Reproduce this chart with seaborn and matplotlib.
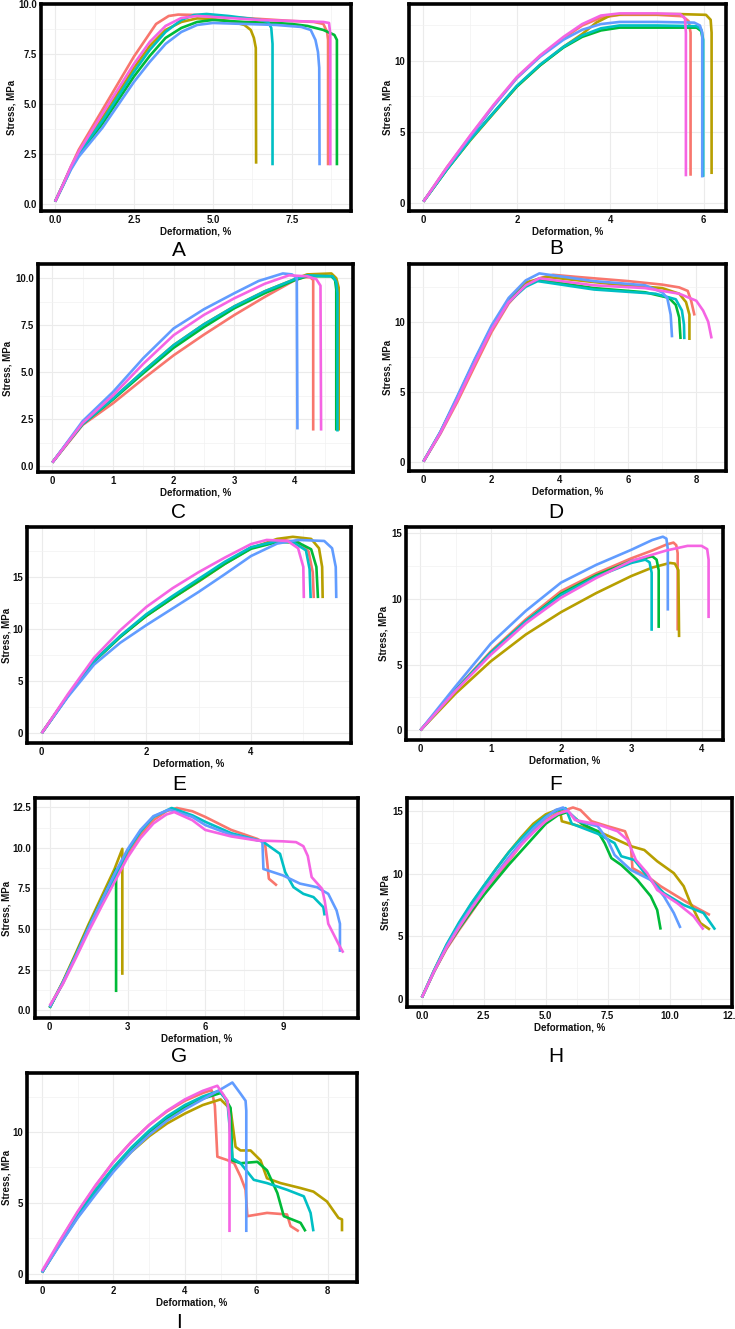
import numpy as np
import pandas as pd
import matplotlib
matplotlib.use("Agg")
import matplotlib.pyplot as plt
import seaborn as sns

# ---------------- data ----------------
SPECIMENS = ["1", "2", "3", "4", "5", "6"]
PALETTE = ["#F8766D", "#B79F00", "#00BA38", "#00BFC4", "#619CFF", "#F564E3"]

A_curves = {
    "1": ([0, 0.25, 0.5, 0.75, 1.5, 2.5, 3.2, 3.6, 3.9, 4.5, 5.5, 6.5, 7.5, 8.2, 8.5, 8.62, 8.65, 8.65],
          [0.1, 0.95, 1.85, 2.7, 4.7, 7.37, 9.0, 9.4, 9.47, 9.45, 9.35, 9.25, 9.15, 9.1, 9.0, 8.6, 8.2, 1.92]),
    "2": ([0, 0.25, 0.5, 0.75, 1.5, 2.5, 3.0, 3.5, 4.0, 4.5, 5.0, 5.5, 6.0, 6.2, 6.3, 6.36, 6.37],
          [0.1, 0.95, 1.8, 2.55, 4.3, 6.8, 7.9, 8.7, 9.1, 9.28, 9.25, 9.15, 8.95, 8.7, 8.3, 7.8, 2.0]),
    "3": ([0, 0.25, 0.5, 0.75, 1.5, 2.5, 3.0, 3.5, 4.0, 4.5, 5.0, 6.0, 7.0, 7.5, 8.0, 8.5, 8.85, 8.93, 8.93],
          [0.1, 0.9, 1.75, 2.45, 4.0, 6.37, 7.4, 8.3, 8.8, 9.1, 9.2, 9.1, 9.05, 9.0, 8.9, 8.7, 8.45, 8.2, 1.92]),
    "4": ([0, 0.25, 0.5, 0.75, 1.5, 2.5, 3.0, 3.5, 4.0, 4.4, 4.8, 5.5, 6.0, 6.5, 6.75, 6.85, 6.89, 6.89],
          [0.1, 0.95, 1.8, 2.5, 4.15, 6.6, 7.7, 8.6, 9.2, 9.45, 9.5, 9.4, 9.3, 9.2, 9.1, 8.8, 8.0, 1.92]),
    "5": ([0, 0.25, 0.5, 0.75, 1.5, 2.5, 3.0, 3.5, 4.0, 4.5, 5.0, 6.0, 7.0, 7.8, 8.1, 8.25, 8.33, 8.37, 8.38],
          [0.1, 0.9, 1.7, 2.35, 3.8, 6.1, 7.1, 8.0, 8.6, 8.95, 9.05, 9.0, 8.95, 8.85, 8.7, 8.2, 7.6, 6.8, 1.92]),
    "6": ([0, 0.25, 0.5, 0.75, 1.5, 2.5, 3.0, 3.5, 4.0, 4.5, 5.5, 6.5, 7.5, 8.5, 8.68, 8.72, 8.72],
          [0.1, 0.95, 1.85, 2.6, 4.5, 7.0, 8.1, 8.9, 9.3, 9.4, 9.3, 9.2, 9.15, 9.1, 9.05, 8.5, 1.92]),
}

B_curves = {
    "1": ([0, 0.5, 1, 1.5, 2, 2.5, 3, 3.4, 3.8, 4.2, 5.0, 5.55, 5.68, 5.72, 5.72],
          [0.1, 2.5, 4.7, 6.85, 8.8, 10.35, 11.6, 12.5, 13.05, 13.25, 13.25, 13.15, 12.8, 12.0, 1.92]),
    "2": ([0, 0.5, 1, 1.5, 2, 2.5, 3, 3.4, 3.7, 4.0, 4.3, 5.5, 6.05, 6.15, 6.17, 6.17],
          [0.1, 2.35, 4.4, 6.3, 8.2, 9.7, 11.0, 11.9, 12.7, 13.2, 13.3, 13.3, 13.25, 12.9, 12.0, 2.04]),
    "3": ([0, 0.5, 1, 1.5, 2, 2.5, 3, 3.4, 3.8, 4.2, 5.0, 5.85, 5.95, 5.98, 5.98],
          [0.1, 2.35, 4.45, 6.35, 8.2, 9.7, 10.95, 11.7, 12.15, 12.35, 12.35, 12.35, 12.1, 11.5, 1.85]),
    "4": ([0, 0.5, 1, 1.5, 2, 2.5, 3, 3.4, 3.8, 4.2, 5.0, 5.85, 5.95, 5.99, 5.99],
          [0.1, 2.35, 4.45, 6.35, 8.25, 9.75, 11.0, 11.8, 12.3, 12.5, 12.5, 12.45, 12.2, 11.5, 1.85]),
    "5": ([0, 0.5, 1, 1.5, 2, 2.5, 3, 3.4, 3.8, 4.2, 5.0, 5.8, 5.92, 5.97, 5.97],
          [0.1, 2.45, 4.65, 6.8, 8.8, 10.3, 11.5, 12.2, 12.6, 12.75, 12.75, 12.7, 12.5, 12.0, 1.8]),
    "6": ([0, 0.5, 1, 1.5, 2, 2.5, 3, 3.4, 3.8, 4.2, 5.0, 5.5, 5.6, 5.62, 5.62],
          [0.1, 2.5, 4.75, 6.9, 8.87, 10.4, 11.7, 12.6, 13.2, 13.35, 13.35, 13.3, 13.0, 12.0, 1.88]),
}

C_curves = {
    "1": ([0, 0.25, 0.5, 1, 1.5, 2, 2.5, 3, 3.5, 4.0, 4.15, 4.25, 4.3, 4.3],
          [0.2, 1.2, 2.2, 3.35, 4.65, 5.9, 7.0, 8.04, 9.0, 9.9, 10.05, 10.05, 9.9, 1.9]),
    "2": ([0, 0.25, 0.5, 1, 1.5, 2, 2.5, 3, 3.5, 4.0, 4.2, 4.6, 4.68, 4.72, 4.72],
          [0.2, 1.25, 2.25, 3.6, 5.05, 6.44, 7.55, 8.5, 9.3, 9.95, 10.2, 10.25, 10.0, 9.5, 1.9]),
    "3": ([0, 0.25, 0.5, 1, 1.5, 2, 2.5, 3, 3.5, 4.0, 4.2, 4.6, 4.66, 4.68, 4.68],
          [0.2, 1.25, 2.25, 3.55, 4.95, 6.3, 7.4, 8.4, 9.2, 9.9, 10.1, 10.1, 9.9, 9.4, 1.9]),
    "4": ([0, 0.25, 0.5, 1, 1.5, 2, 2.5, 3, 3.5, 4.0, 4.2, 4.62, 4.68, 4.7, 4.7],
          [0.2, 1.25, 2.25, 3.6, 5.05, 6.44, 7.55, 8.5, 9.3, 9.95, 10.15, 10.1, 9.8, 9.2, 1.85]),
    "5": ([0, 0.25, 0.5, 1, 1.5, 2, 2.5, 3, 3.4, 3.8, 3.95, 4.03, 4.04],
          [0.2, 1.3, 2.4, 3.95, 5.75, 7.33, 8.35, 9.2, 9.85, 10.25, 10.2, 10.0, 1.96]),
    "6": ([0, 0.25, 0.5, 1, 1.5, 2, 2.5, 3, 3.5, 3.9, 4.2, 4.35, 4.42, 4.43],
          [0.2, 1.25, 2.3, 3.77, 5.45, 6.97, 8.05, 8.93, 9.7, 10.15, 10.1, 9.95, 9.6, 1.9]),
}

D_curves = {
    "1": ([0, 0.5, 1, 1.5, 2, 2.5, 3.0, 3.4, 3.8, 4.5, 6.0, 7.0, 7.5, 7.75, 7.85, 7.95],
          [0, 2.0, 4.3, 6.8, 9.27, 11.3, 12.65, 13.1, 13.35, 13.2, 12.9, 12.65, 12.45, 12.2, 11.5, 10.44]),
    "2": ([0, 0.5, 1, 1.5, 2, 2.5, 3.0, 3.6, 5.5, 7.0, 7.5, 7.7, 7.8, 7.8],
          [0, 2.1, 4.6, 7.2, 9.6, 11.6, 12.8, 13.2, 12.7, 12.4, 12.0, 11.4, 10.5, 8.69]),
    "3": ([0, 0.5, 1, 1.5, 2, 2.5, 3.0, 3.35, 5.0, 6.5, 7.2, 7.4, 7.5, 7.54],
          [0, 2.1, 4.6, 7.2, 9.6, 11.5, 12.6, 13.0, 12.4, 12.1, 11.7, 11.2, 10.3, 8.76]),
    "4": ([0, 0.5, 1, 1.5, 2, 2.5, 3.0, 3.35, 5.0, 6.8, 7.4, 7.58, 7.64, 7.65],
          [0, 2.1, 4.55, 7.1, 9.5, 11.4, 12.5, 12.9, 12.3, 12.0, 11.6, 10.8, 9.8, 8.75]),
    "5": ([0, 0.5, 1, 1.5, 2, 2.5, 3.0, 3.4, 5.0, 6.5, 7.0, 7.15, 7.25, 7.29],
          [0, 2.15, 4.7, 7.3, 9.74, 11.7, 12.95, 13.45, 12.9, 12.6, 12.1, 11.7, 10.5, 8.88]),
    "6": ([0, 0.5, 1, 1.5, 2, 2.5, 3.0, 3.4, 5.0, 6.5, 7.5, 8.0, 8.2, 8.35, 8.45],
          [0, 2.05, 4.45, 7.0, 9.45, 11.4, 12.6, 13.1, 12.6, 12.4, 12.0, 11.5, 10.8, 10.0, 8.8]),
}

E_curves = {
    "1": ([0, 0.5, 1, 1.5, 2, 2.5, 3, 3.5, 4, 4.6, 4.9, 5.1, 5.18, 5.2],
          [0, 3.6, 6.95, 9.3, 11.37, 13.1, 14.7, 16.4, 17.85, 18.6, 18.4, 17.5, 15.5, 13.0]),
    "2": ([0, 0.5, 1, 1.5, 2, 2.5, 3, 3.5, 4, 4.5, 4.8, 5.15, 5.3, 5.36, 5.37],
          [0, 3.6, 6.95, 9.3, 11.3, 13.0, 14.6, 16.3, 17.8, 18.7, 18.9, 18.7, 17.8, 16.0, 13.0]),
    "3": ([0, 0.5, 1, 1.5, 2, 2.5, 3, 3.5, 4, 4.5, 4.9, 5.15, 5.25, 5.28],
          [0, 3.6, 6.9, 9.25, 11.3, 13.0, 14.65, 16.3, 17.75, 18.4, 18.35, 17.7, 16.0, 13.0]),
    "4": ([0, 0.5, 1, 1.5, 2, 2.5, 3, 3.5, 4, 4.5, 4.8, 5.05, 5.12, 5.14],
          [0, 3.6, 6.95, 9.35, 11.45, 13.2, 14.85, 16.5, 17.9, 18.5, 18.4, 17.6, 15.8, 13.0]),
    "5": ([0, 0.5, 1, 1.5, 2, 2.5, 3, 3.5, 4, 4.5, 4.9, 5.4, 5.55, 5.62, 5.63],
          [0, 3.5, 6.6, 8.7, 10.4, 12.0, 13.6, 15.3, 17.05, 18.25, 18.6, 18.5, 17.8, 16.0, 13.0]),
    "6": ([0, 0.5, 1, 1.5, 2, 2.5, 3, 3.5, 4, 4.3, 4.7, 4.9, 5.0, 5.01],
          [0, 3.75, 7.26, 9.9, 12.15, 13.95, 15.5, 16.9, 18.2, 18.6, 18.5, 17.8, 16.0, 13.0]),
}

F_curves = {
    "1": ([0, 0.5, 1, 1.5, 2, 2.5, 3, 3.3, 3.5, 3.6, 3.64, 3.66, 3.66],
          [0, 3.1, 6.0, 8.45, 10.6, 11.95, 13.1, 13.7, 14.15, 14.3, 14.1, 13.5, 7.6]),
    "2": ([0, 0.5, 1, 1.5, 2, 2.5, 3, 3.3, 3.55, 3.62, 3.67, 3.68],
          [0, 2.8, 5.25, 7.3, 9.0, 10.45, 11.75, 12.4, 12.75, 12.7, 12.2, 7.1]),
    "3": ([0, 0.5, 1, 1.5, 2, 2.5, 3, 3.3, 3.36, 3.39, 3.39],
          [0, 3.05, 5.9, 8.3, 10.4, 11.8, 12.9, 13.25, 13.0, 12.2, 7.8]),
    "4": ([0, 0.5, 1, 1.5, 2, 2.5, 3, 3.2, 3.26, 3.29, 3.29],
          [0, 3.05, 5.9, 8.3, 10.3, 11.7, 12.75, 13.0, 12.8, 12.0, 7.58]),
    "5": ([0, 0.5, 1, 1.5, 2, 2.5, 3, 3.3, 3.45, 3.5, 3.52, 3.52],
          [0, 3.35, 6.6, 9.1, 11.25, 12.6, 13.75, 14.5, 14.75, 14.6, 13.8, 9.12]),
    "6": ([0, 0.5, 1, 1.5, 2, 2.5, 3, 3.5, 3.8, 4.0, 4.08, 4.1, 4.1],
          [0, 3.0, 5.75, 8.15, 10.1, 11.6, 12.9, 13.7, 14.05, 14.05, 13.8, 13.0, 8.55]),
}

G_curves = {
    "1": ([0, 0.5, 1, 1.5, 2, 2.5, 3, 3.5, 4, 4.5, 4.9, 5.5, 6, 7, 8, 8.3, 8.38, 8.45, 8.6, 8.76],
          [0.2, 1.65, 3.3, 5.0, 6.55, 8.1, 9.6, 10.8, 11.7, 12.25, 12.45, 12.25, 11.9, 11.1, 10.55, 10.3, 9.2, 8.1, 7.9, 7.68]),
    "2": ([0, 0.5, 1, 1.5, 2, 2.5, 2.8, 2.8],
          [0.2, 1.75, 3.5, 5.3, 7.0, 8.7, 9.94, 2.19]),
    "3": ([0, 0.5, 1, 1.5, 2, 2.4, 2.56, 2.56],
          [0.15, 1.7, 3.4, 5.15, 6.8, 8.1, 8.7, 1.13]),
    "4": ([0, 0.5, 1, 1.5, 2, 2.5, 3, 3.5, 4, 4.7, 5.5, 6, 7, 8.2, 8.88, 9.08, 9.4, 9.78, 10.17, 10.55, 10.6],
          [0.2, 1.65, 3.3, 5.0, 6.6, 8.2, 9.8, 11.0, 11.9, 12.45, 12.0, 11.6, 10.9, 10.4, 9.63, 8.5, 7.58, 7.17, 6.97, 6.35, 5.84]),
    "5": ([0, 0.5, 1, 1.5, 2, 2.5, 3, 3.5, 4, 4.6, 5.5, 6, 7, 8.2, 8.24, 9.0, 9.65, 10.3, 10.74, 11.06, 11.19, 11.19],
          [0.2, 1.7, 3.35, 5.1, 6.75, 8.4, 9.9, 11.1, 11.95, 12.35, 11.9, 11.4, 10.8, 10.4, 8.7, 8.3, 7.8, 7.58, 7.17, 6.15, 5.33, 3.6]),
    "6": ([0, 0.5, 1, 1.5, 2, 2.5, 3, 3.5, 4, 4.5, 4.8, 5.5, 6, 7, 8, 9, 9.5, 9.78, 9.95, 10.1, 10.5, 10.6, 10.74, 10.94, 11.13, 11.32],
          [0.3, 1.6, 3.2, 4.85, 6.4, 7.9, 9.4, 10.6, 11.5, 12.05, 12.2, 11.7, 11.1, 10.7, 10.45, 10.4, 10.35, 10.1, 9.5, 8.2, 7.48, 6.76, 5.33, 4.7, 4.1, 3.55]),
}

H_curves = {
    "1": ([0, 0.5, 1, 1.5, 2, 2.5, 3, 3.5, 4, 4.5, 5, 5.5, 6.1, 6.4, 6.85, 7.5, 8.2, 8.44, 8.5, 9.1, 9.64, 10.3, 10.97, 11.63],
          [0.1, 2.2, 4.0, 5.5, 6.9, 8.35, 9.7, 11.0, 12.3, 13.4, 14.3, 14.9, 15.3, 15.1, 14.2, 13.8, 13.4, 12.2, 10.45, 9.8, 9.0, 8.2, 7.4, 6.7]),
    "2": ([0, 0.5, 1, 1.5, 2, 2.5, 3, 3.5, 4, 4.5, 5, 5.5, 5.6, 5.65, 6.2, 7.1, 7.9, 8.45, 8.98, 9.5, 10.17, 10.57, 10.84, 11.24, 11.63],
          [0.1, 2.3, 4.3, 6.0, 7.6, 9.0, 10.4, 11.7, 12.9, 14.0, 14.75, 15.15, 14.8, 14.2, 13.9, 13.4, 12.7, 12.2, 11.9, 11.0, 10.05, 9.0, 7.66, 6.06, 5.53]),
    "3": ([0, 0.5, 1, 1.5, 2, 2.5, 3, 3.5, 4, 4.5, 5, 5.5, 5.9, 6.45, 7.1, 7.38, 7.65, 8.05, 8.7, 9.24, 9.5, 9.64],
          [0.1, 2.2, 4.1, 5.6, 7.0, 8.3, 9.5, 10.7, 11.8, 12.9, 14.0, 14.7, 14.95, 14.0, 13.4, 12.45, 11.25, 10.7, 9.5, 8.2, 7.1, 5.53]),
    "4": ([0, 0.5, 1, 1.5, 2, 2.5, 3, 3.5, 4, 4.5, 5, 5.5, 5.8, 6.05, 7.1, 7.78, 8.05, 8.58, 9.1, 9.77, 10.57, 11.37, 11.84],
          [0.1, 2.3, 4.35, 6.1, 7.65, 9.05, 10.4, 11.7, 12.8, 13.8, 14.6, 15.1, 15.25, 14.0, 13.2, 12.45, 11.4, 11.1, 9.8, 8.45, 7.5, 6.86, 5.53]),
    "5": ([0, 0.5, 1, 1.5, 2, 2.5, 3, 3.5, 4, 4.5, 5, 5.4, 5.7, 5.9, 6.3, 7.1, 7.5, 7.78, 8.44, 9.24, 9.77, 10.17, 10.44],
          [0.1, 2.25, 4.2, 5.85, 7.3, 8.7, 10.0, 11.3, 12.5, 13.6, 14.5, 15.1, 15.3, 15.0, 14.2, 13.8, 12.7, 11.5, 10.3, 9.5, 8.2, 6.86, 5.66]),
    "6": ([0, 0.5, 1, 1.5, 2, 2.5, 3, 3.5, 4, 4.5, 5, 5.5, 5.9, 6.18, 7.1, 7.9, 8.3, 8.64, 9.1, 9.5, 10.3, 10.97, 11.37],
          [0.1, 2.2, 4.1, 5.7, 7.2, 8.6, 9.9, 11.1, 12.3, 13.3, 14.2, 14.8, 15.05, 14.3, 13.95, 13.4, 12.7, 11.1, 10.05, 8.7, 7.66, 6.6, 5.53]),
}

I_curves = {
    "1": ([0, 0.5, 1, 1.5, 2, 2.5, 3, 3.5, 4, 4.5, 4.75, 4.84, 4.91, 5.19, 5.38, 5.56, 5.7, 5.75, 6.3, 6.86, 6.96, 7.19],
          [0.1, 2.3, 4.35, 6.2, 7.9, 9.3, 10.5, 11.45, 12.2, 12.75, 12.95, 11.86, 8.26, 8.02, 7.8, 6.86, 5.93, 4.07, 4.3, 4.19, 3.37, 3.0]),
    "2": ([0, 0.5, 1, 1.5, 2, 2.5, 3, 3.5, 4, 4.5, 5.0, 5.28, 5.42, 5.56, 5.84, 6.12, 6.3, 6.68, 7.24, 7.6, 7.98, 8.3, 8.4, 8.4],
          [0.1, 2.1, 4.0, 5.7, 7.3, 8.6, 9.7, 10.6, 11.3, 11.9, 12.3, 11.6, 8.95, 8.7, 8.7, 8.0, 6.74, 6.4, 6.05, 5.8, 5.1, 3.95, 3.84, 3.0]),
    "3": ([0, 0.5, 1, 1.5, 2, 2.5, 3, 3.5, 4, 4.5, 5.0, 5.05, 5.28, 5.33, 5.56, 6.03, 6.3, 6.59, 6.77, 7.24, 7.38],
          [0.1, 2.15, 4.1, 5.85, 7.45, 8.8, 10.0, 10.95, 11.75, 12.35, 12.75, 12.7, 11.7, 8.0, 7.8, 7.9, 7.3, 5.7, 4.07, 3.6, 3.0]),
    "4": ([0, 0.5, 1, 1.5, 2, 2.5, 3, 3.5, 4, 4.5, 4.95, 5.19, 5.33, 5.56, 5.93, 6.3, 6.86, 7.33, 7.52, 7.6],
          [0.1, 2.15, 4.1, 5.9, 7.5, 8.9, 10.1, 11.1, 11.9, 12.5, 12.9, 12.2, 8.14, 7.8, 6.63, 6.4, 5.93, 5.47, 4.3, 3.0]),
    "5": ([0, 0.5, 1, 1.5, 2, 2.5, 3, 3.5, 4, 4.5, 5.0, 5.33, 5.56, 5.7, 5.72, 5.72],
          [0.1, 2.05, 3.95, 5.6, 7.2, 8.6, 9.8, 10.8, 11.6, 12.3, 13.0, 13.49, 12.7, 12.2, 11.5, 2.95]),
    "6": ([0, 0.5, 1, 1.5, 2, 2.5, 3, 3.5, 4, 4.5, 4.91, 5.19, 5.25, 5.25],
          [0.2, 2.35, 4.4, 6.25, 7.9, 9.3, 10.5, 11.5, 12.3, 12.9, 13.26, 12.2, 11.0, 2.95]),
}

# tick values and labels
A_xticks, A_xlabels = [0, 2.5, 5, 7.5], ["0.0", "2.5", "5.0", "7.5"]
A_yticks, A_ylabels = [0, 2.5, 5, 7.5, 10], ["0.0", "2.5", "5.0", "7.5", "10.0"]
B_xticks, B_xlabels = [0, 2, 4, 6], ["0", "2", "4", "6"]
B_yticks, B_ylabels = [0, 5, 10], ["0", "5", "10"]
C_xticks, C_xlabels = [0, 1, 2, 3, 4], ["0", "1", "2", "3", "4"]
C_yticks, C_ylabels = [0, 2.5, 5, 7.5, 10], ["0.0", "2.5", "5.0", "7.5", "10.0"]
D_xticks, D_xlabels = [0, 2, 4, 6, 8], ["0", "2", "4", "6", "8"]
D_yticks, D_ylabels = [0, 5, 10], ["0", "5", "10"]
E_xticks, E_xlabels = [0, 2, 4], ["0", "2", "4"]
E_yticks, E_ylabels = [0, 5, 10, 15], ["0", "5", "10", "15"]
F_xticks, F_xlabels = [0, 1, 2, 3, 4], ["0", "1", "2", "3", "4"]
F_yticks, F_ylabels = [0, 5, 10, 15], ["0", "5", "10", "15"]
G_xticks, G_xlabels = [0, 3, 6, 9], ["0", "3", "6", "9"]
G_yticks, G_ylabels = [0, 2.5, 5, 7.5, 10, 12.5], ["0.0", "2.5", "5.0", "7.5", "10.0", "12.5"]
H_xticks, H_xlabels = [0, 2.5, 5, 7.5, 10, 12.5], ["0.0", "2.5", "5.0", "7.5", "10.0", "12.5"]
H_yticks, H_ylabels = [0, 5, 10, 15], ["0", "5", "10", "15"]
I_xticks, I_xlabels = [0, 2, 4, 6, 8], ["0", "2", "4", "6", "8"]
I_yticks, I_ylabels = [0, 5, 10], ["0", "5", "10"]

PANEL_NAMES = ["A", "B", "C", "D", "E", "F", "G", "H", "I"]
X_TITLE = "Deformation, %"
Y_TITLE = "Stress, MPa"

# ---------------- layout (figure pixels) ----------------
W, H = 735, 1329
BOXES = {  # left, top, right, bottom
    "A": (41, 4, 351, 211), "B": (409, 4, 726, 211),
    "C": (38, 264, 353, 472), "D": (409, 264, 726, 471),
    "E": (27, 527, 351, 743), "F": (406, 527, 723, 740),
    "G": (35, 798, 358, 1018), "H": (407, 798, 732, 1007),
    "I": (27, 1073, 357, 1282),
}
YTITLE_X = {"A": 12, "B": 388, "C": 8, "D": 388, "E": 6, "F": 384,
            "G": 7, "H": 385, "I": 6}
LETTER_POS = {
    "A": (179, 250), "B": (556, 249), "C": (179, 513), "D": (556, 512),
    "E": (179, 785), "F": (556, 784), "G": (179, 1057), "H": (556, 1057),
    "I": (179, 1322),
}
XLIM_OVERRIDE = {"H": (-0.6, 12.52)}

sns.set_theme(style="white")
plt.rcParams["font.family"] = ["Liberation Sans", "DejaVu Sans"]

fig = plt.figure(figsize=(W / 100, H / 100), dpi=100)
fig.patch.set_facecolor("white")

panels = {
    "A": (A_curves, A_xticks, A_xlabels, A_yticks, A_ylabels),
    "B": (B_curves, B_xticks, B_xlabels, B_yticks, B_ylabels),
    "C": (C_curves, C_xticks, C_xlabels, C_yticks, C_ylabels),
    "D": (D_curves, D_xticks, D_xlabels, D_yticks, D_ylabels),
    "E": (E_curves, E_xticks, E_xlabels, E_yticks, E_ylabels),
    "F": (F_curves, F_xticks, F_xlabels, F_yticks, F_ylabels),
    "G": (G_curves, G_xticks, G_xlabels, G_yticks, G_ylabels),
    "H": (H_curves, H_xticks, H_xlabels, H_yticks, H_ylabels),
    "I": (I_curves, I_xticks, I_xlabels, I_yticks, I_ylabels),
}


def minor_of(ticks, lo, hi):
    step = ticks[1] - ticks[0]
    cands = [ticks[0] - step / 2] + [t + step / 2 for t in ticks]
    return [c for c in cands if lo <= c <= hi]


def expand(vals):
    lo, hi = min(vals), max(vals)
    pad = 0.05 * (hi - lo)
    return lo - pad, hi + pad


for name in PANEL_NAMES:
    curves, xt, xl, yt, yl = panels[name]
    l, t, r, b = BOXES[name]
    ax = fig.add_axes([l / W, 1 - b / H, (r - l) / W, (b - t) / H])
    rows = []
    for spec in SPECIMENS:
        xs, ys = curves[spec]
        for xv, yv in zip(xs, ys):
            rows.append((spec, xv, yv))
    df = pd.DataFrame(rows, columns=["specimen", "x", "y"])
    sns.lineplot(data=df, x="x", y="y", hue="specimen", hue_order=SPECIMENS,
                 palette=PALETTE, sort=False, estimator=None, legend=False,
                 linewidth=1.9, ax=ax)
    for line in ax.get_lines():
        line.set_solid_joinstyle("round")
        line.set_solid_capstyle("butt")

    xlim = XLIM_OVERRIDE.get(name, expand(df["x"].tolist()))
    ylim = expand(df["y"].tolist())
    ax.set_xlim(*xlim)
    ax.set_ylim(*ylim)
    ax.set_xticks(xt)
    ax.set_xticklabels(xl, fontweight="bold", fontsize=6.9, color="#111111")
    ax.set_yticks(yt)
    ax.set_yticklabels(yl, fontweight="bold", fontsize=6.9, color="#111111")
    ax.set_xticks(minor_of(xt, *xlim), minor=True)
    ax.set_yticks(minor_of(yt, *ylim), minor=True)
    ax.grid(which="major", color="#EBEBEB", linewidth=0.8)
    ax.grid(which="minor", color="#F2F2F2", linewidth=0.5)
    ax.set_axisbelow(True)
    ax.tick_params(which="major", direction="out", length=2.0, width=0.8,
                   color="#333333", pad=1.0)
    ax.tick_params(which="minor", length=0)
    for sp in ax.spines.values():
        sp.set_visible(True)
        sp.set_color("black")
        sp.set_linewidth(2.6)
    ax.set_xlabel(X_TITLE, fontweight="bold", fontsize=7, labelpad=1, color="#111111")
    ax.set_ylabel(Y_TITLE, fontweight="bold", fontsize=7, color="#111111")
    ax.yaxis.set_label_coords((YTITLE_X[name] - l) / (r - l), 0.5)
    ax.yaxis.label.set_va("center")
    ax.set_facecolor("white")

    lx, ly = LETTER_POS[name]
    fig.text(lx / W, 1 - ly / H, name, ha="center", va="center", fontsize=15, color="black")

fig.savefig("out.png", dpi=100, facecolor="white")
